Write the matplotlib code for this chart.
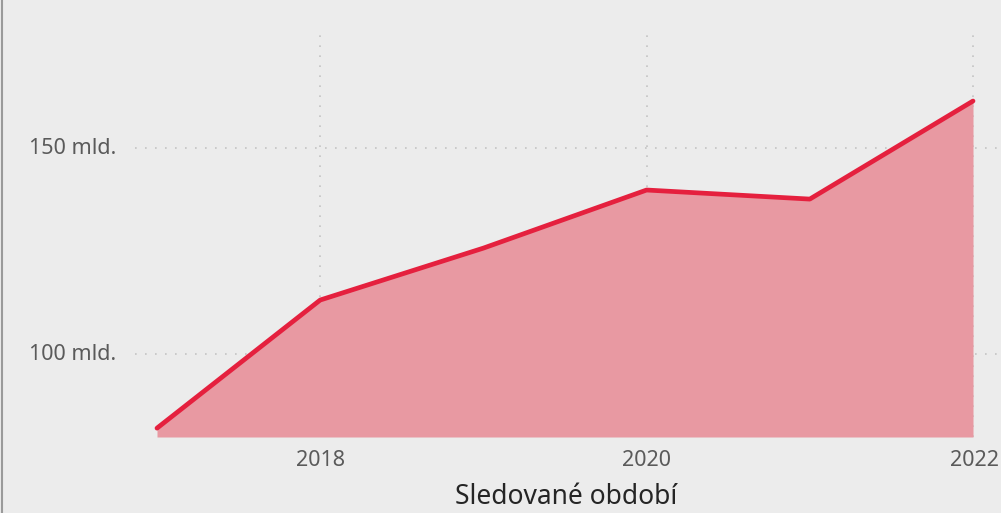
import matplotlib
matplotlib.use("Agg")
import matplotlib.pyplot as plt
from matplotlib.lines import Line2D

# Values (miliardy)
years = [2017, 2018, 2019, 2020, 2021, 2022]
values = [82.0, 113.1, 125.7, 139.8, 137.6, 161.4]
y_ticks = [100, 150]
y_labels = ["100 mld.", "150 mld."]
x_ticks = [2018, 2020, 2022]
x_title = "Sledované období"

bg = "#ececec"
line_col = "#e5203e"
fill_col = "#e899a2"

W, H = 1001, 513
fig = plt.figure(figsize=(W / 100, H / 100), dpi=100, facecolor=bg)

# axes cover the full width, bottom sits on the base of the area
ax = fig.add_axes([0, 1 - 437 / H, 1, 437 / H])
ax.set_facecolor(bg)
px_year = 163.2
x0 = 2017 - 157 / px_year
x1 = 2017 + (W - 157) / px_year
px_unit = 206 / 50
y0 = 100 - 83 / px_unit
y1 = 150 + 148 / px_unit
ax.set_xlim(x0, x1)
ax.set_ylim(y0, y1)
for s in ax.spines.values():
    s.set_visible(False)
ax.set_xticks([])
ax.set_yticks([])

# dotted grid
grid_kw = dict(color="#c4c4c4", linestyle=(0, (1, 5)), linewidth=1.2, zorder=1)
for t in y_ticks:
    ax.hlines(t, x0 + 135 / px_year, x1, **grid_kw)
for t in x_ticks:
    ax.vlines(t, y0, 150 + 118 / px_unit, **grid_kw)

ax.fill_between(years, values, y0, color=fill_col, linewidth=0, zorder=2)
ax.plot(years, values, color=line_col, linewidth=3.4, solid_capstyle="round",
        solid_joinstyle="round", zorder=3)

# y labels inside the plot area
for t, lab in zip(y_ticks, y_labels):
    ax.text(x0 + 116 / px_year, t, lab, ha="right", va="center",
            fontsize=15.5, color="#5a5a5a", family="Noto Sans")

# x labels below
for t in x_ticks:
    xf = (t - x0) / (x1 - x0)
    ha = "center"
    if t == x_ticks[-1]:
        xf = 999 / W
        ha = "right"
    fig.text(xf, 1 - 461 / H, str(t), ha=ha, va="center",
             fontsize=15.5, color="#5a5a5a", family="Noto Sans")

fig.text(566 / W, 1 - 497 / H, x_title, ha="center", va="center",
         fontsize=19, color="#252525", family="Noto Sans")

# thin border on the left edge
fig.add_artist(Line2D([2 / W, 2 / W], [0, 1], color="#9a9a9a", linewidth=1.5,
                      transform=fig.transFigure))

fig.savefig("out.png", dpi=100, facecolor=bg)
